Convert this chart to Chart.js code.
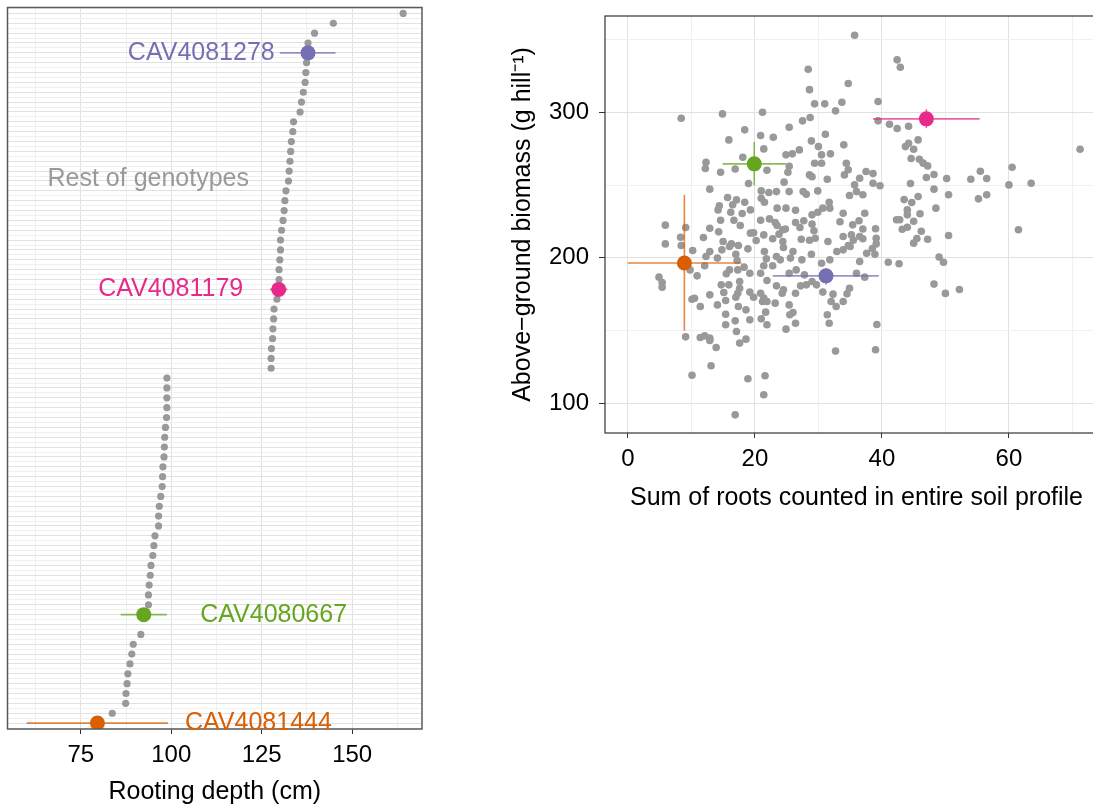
<!DOCTYPE html>
<html>
<head>
<meta charset="utf-8">
<title>Rooting depth and biomass</title>
<script src="https://cdn.jsdelivr.net/npm/chart.js@4.4.1/dist/chart.umd.min.js"></script>
<style>
  html, body { margin: 0; padding: 0; background: #fff; overflow: hidden; }
  body { width: 1093px; height: 809px; position: relative; }
  #depth-chart { position: absolute; left: 0; top: 0; }
  #biomass-chart { position: absolute; left: 500px; top: 0; }
</style>
</head>
<body>
<canvas id="depth-chart" width="430" height="809"></canvas>
<canvas id="biomass-chart" width="620" height="520"></canvas>
<script>
const FONT = "'Liberation Sans', Arial, Helvetica, sans-serif";
Chart.defaults.font.family = FONT;
Chart.defaults.color = '#000';

// highlighted genotypes
const genotypes = ['CAV4081278', 'CAV4081179', 'CAV4080667', 'CAV4081444'];
const genoColours = ['#7570B3', '#E7298A', '#66A61E', '#D95F02'];
const genoRank = [4, 28, 61, 72];
const depthMean = [137.8, 129.7, 92.4, 79.6];
const depthLow = [130.0, 127.3, 86.0, 60.0];
const depthHigh = [145.4, 132.1, 98.8, 99.1];
const rootsMean = [31.2, 47.0, 19.9, 8.9];
const rootsLow = [22.8, 38.6, 14.9, 0.0];
const rootsHigh = [39.5, 55.4, 24.9, 17.9];
const biomassMean = [187.6, 295.7, 264.7, 196.4];
const biomassLow = [181.4, 289.3, 249.8, 149.8];
const biomassHigh = [192.9, 302.3, 279.8, 243.4];

// rooting depth of every genotype, deepest first (rank = row)
const depthByRank = [
  164.1, 144.8, 139.6, 137.8, 137.8, 137.4, 137.2, 137.0, 136.5, 136.0,
  135.6, 133.8, 133.6, 133.2, 133.0, 132.8, 132.6, 132.4, 131.7, 131.4,
  131.2, 130.9, 130.5, 130.2, 130.2, 130.0, 129.8, 129.8, 129.7, 129.2,
  128.4, 128.3, 128.1, 128.0, 127.7, 127.6, 127.6,
  98.8, 98.8, 98.8, 98.8, 98.7, 98.4, 98.2, 98.1, 98.0, 97.7,
  97.6, 97.5, 97.1, 96.7, 96.5, 96.5, 95.5, 95.2, 94.9, 94.4,
  94.2, 93.9, 93.7, 93.7, 92.4, null, 91.6, 89.5, 89.1, 88.6,
  88.0, 87.8, 87.5, 87.4, 83.7, 79.6
];

// [roots counted, above-ground biomass] for the rest of the genotypes
const otherGenotypes = [
  [35.7,353.2],[28.4,329.8],[28.6,315.8],[34.7,320.0],
  [29.4,306.0],[31.0,306.0],[33.7,307.1],[32.7,301.2],[21.2,300.2],[14.9,299.1],[8.4,296.1],[28.7,296.6],[27.5,294.3],
  [25.4,289.9],[18.4,288.1],[31.1,285.1],[20.9,284.2],[22.9,283.0],[15.9,281.2],[28.9,280.5],[30.0,276.6],[34.0,277.8],
  [21.4,275.0],[27.0,274.3],[25.9,271.6],[24.9,270.9],[30.5,270.9],[31.9,271.6],[18.1,269.3],[12.3,265.8],
  [12.2,261.5],[16.9,261.2],[14.6,258.9],[21.9,260.3],[25.4,263.1],[25.2,258.9],[29.4,265.1],[30.5,265.1],[34.4,265.1],
  [34.7,260.6],[34.1,257.1],[28.6,257.1],[29.0,255.8],[31.4,254.1],[37.5,259.4],[36.5,254.8],
  [24.6,252.1],[19.0,251.2],[12.9,247.3],[21.0,246.1],[22.2,245.0],[23.4,245.6],[25.4,245.6],[27.6,245.6],[28.1,243.8],
  [29.9,246.1],[35.7,250.2],[36.0,245.6],[34.9,242.9],[37.0,243.4],
  [15.7,241.5],[17.1,239.9],[18.4,238.3],[16.5,236.5],[14.4,235.8],[14.2,233.0],[16.2,231.4],[18.0,230.5],[19.3,233.0],
  [21.0,241.0],[21.5,238.3],[23.5,234.2],[24.9,234.2],[26.4,232.8],[29.0,229.6],[29.9,231.4],[30.7,234.2],[31.7,238.3],
  [31.8,234.2],[33.9,230.7],[37.3,230.7],
  [5.9,222.5],[9.1,220.9],[12.9,220.4],[14.6,225.9],[16.7,225.9],[17.7,222.3],[20.9,225.9],[22.3,226.8],[23.2,224.3],
  [23.5,222.3],[24.8,219.9],[26.4,224.3],[27.7,225.5],[27.1,220.9],[29.0,223.2],[29.3,218.6],[33.4,224.8],[35.4,222.7],
  [36.4,225.5],[37.0,219.9],[35.2,215.8],[36.5,214.7],
  [5.9,209.6],[8.3,214.2],[8.4,208.5],[11.9,214.0],[14.3,217.9],[15.0,211.2],[16.3,209.6],[17.4,208.5],[19.3,217.0],
  [19.8,217.2],[20.2,211.9],[21.4,215.8],[22.8,213.1],[23.8,216.3],[24.4,219.3],[24.4,211.2],[27.3,212.8],[28.6,212.1],
  [29.5,213.5],[31.5,211.2],[33.9,214.7],[34.7,208.5],[35.5,212.1],[37.0,213.1],
  [10.2,205.0],[12.3,200.9],[12.9,204.3],[14.1,199.8],[14.8,205.5],[16.0,207.8],[17.0,202.5],[17.2,198.2],[18.9,206.2],
  [21.5,204.4],[21.8,199.3],[23.4,200.9],[24.5,207.1],[24.0,198.6],[25.6,199.8],[26.0,204.4],[27.4,198.6],[28.9,202.5],
  [30.5,196.3],[31.8,198.6],[32.9,204.4],[33.9,205.5],[35.0,207.8],[36.5,197.5],[37.6,203.2],
  [4.9,186.7],[5.4,183.0],[5.4,179.8],[9.8,191.7],[10.9,187.6],[12.1,194.5],[15.5,189.0],[16.0,191.7],[17.3,191.7],
  [18.3,193.6],[19.2,189.4],[20.9,189.4],[21.4,194.5],[21.9,184.4],[22.8,194.5],[23.4,180.7],[24.5,178.0],[24.3,175.6],
  [26.4,175.6],[25.4,189.4],[26.5,191.7],[27.8,188.3],[27.2,180.7],[28.1,181.4],[29.0,183.7],[29.7,181.4],[30.7,176.4],
  [32.3,175.0],[32.0,169.9],[32.8,166.5],[33.9,169.9],[34.9,179.1],[34.5,175.2],[36.0,189.4],[37.3,186.7],
  [14.7,181.4],[15.9,181.4],[17.6,183.7],[17.6,179.1],[17.3,175.6],[15.1,176.1],[17.0,172.9],[12.9,174.5],[10.1,171.5],
  [10.5,172.2],[11.4,166.5],[14.1,167.6],[15.4,170.6],[17.4,166.5],[19.2,176.4],[19.8,172.9],[20.9,175.6],[21.2,169.9],
  [21.9,169.9],[21.4,172.3],[23.2,168.8],[25.4,167.6],[26.0,162.4],[25.5,160.8],[26.4,155.0],[24.9,150.9],[18.6,164.2],
  [21.7,162.6],[21.0,158.0],[21.9,153.9],[19.2,157.3],[16.9,156.6],[15.4,153.9],[15.4,161.2],[17.1,149.3],[17.6,141.3],
  [18.6,144.0],[9.1,145.6],[11.4,145.2],[12.1,146.3],[12.9,144.7],[12.9,143.1],[13.9,138.3],[13.1,125.7],[10.1,119.2],
  [18.9,116.7],[21.6,118.8],[21.4,105.7],[16.9,91.9],[31.4,160.8],[31.7,155.0],[32.7,135.8],
  [42.4,336.3],[42.9,331.2],[39.4,307.6],[39.4,294.3],[41.2,292.0],[42.4,289.0],[44.2,290.6],[45.7,281.2],[44.2,278.9],
  [43.7,276.6],[45.0,274.8],[44.6,268.4],[45.9,267.9],[46.5,265.2],[47.2,263.3],[48.2,257.4],[47.0,255.3],[50.2,254.6],
  [44.5,251.2],[48.2,247.3],[50.5,243.4],[45.7,242.2],[43.5,240.1],[44.7,238.1],[48.5,234.2],[44.0,233.0],[44.0,229.6],
  [46.0,230.3],[42.3,226.2],[42.8,226.2],[45.0,225.2],[44.0,221.1],[43.2,219.7],[46.2,218.3],[50.5,215.4],[47.2,212.8],
  [45.5,213.3],[45.0,210.1],[49.0,200.5],[49.7,197.0],[41.0,197.0],[42.7,195.9],[48.2,181.9],[50.0,175.5],[52.2,178.2],
  [54.0,254.1],[55.5,259.6],[56.5,254.6],[55.2,240.6],[56.5,243.4],[60.5,262.4],[60.0,250.2],[63.5,251.4],[61.5,219.3],
  [71.2,274.8],[38.6,258.0],[38.6,251.4],[39.7,249.6],[39.0,220.0],[39.1,213.5],[39.1,209.6],[38.5,206.4],[38.9,202.5],
  [39.0,136.7],[39.2,154.1]
];

// axis breaks
const depthTicks = [75, 100, 125, 150];
const rootTicks = [0, 20, 40, 60];
const biomassTicks = [100, 200, 300];

const GREY = '#999999';
const GRID_MAJOR = '#e1e1e1';
const GRID_MINOR = '#f0f0f0';

// major breaks plus the half steps between them (and one either side)
function withMinor(breaks) {
  const step = breaks[1] - breaks[0];
  const out = [breaks[0] - step / 2];
  breaks.forEach(b => { out.push(b, b + step / 2); });
  return out;
}

function fade(hex, a) {
  const n = parseInt(hex.slice(1), 16);
  return `rgba(${n >> 16}, ${(n >> 8) & 255}, ${n & 255}, ${a})`;
}

// the scales keep their own label padding otherwise, which pushes the plot area in
function noEdgePadding(axis) {
  axis.paddingTop = 0;
  axis.paddingBottom = 0;
  axis.paddingLeft = 0;
  axis.paddingRight = 0;
}

// box round the plotting area, ggplot style
const panelFrame = {
  id: 'panelFrame',
  afterDatasetsDraw(chart, args, opts) {
    const { ctx, chartArea: a } = chart;
    ctx.save();
    ctx.strokeStyle = opts.color;
    ctx.lineWidth = opts.width;
    ctx.strokeRect(a.left, a.top, a.right - a.left, a.bottom - a.top);
    ctx.restore();
  }
};

// names written next to the highlighted rows
const rowLabels = {
  id: 'rowLabels',
  afterDatasetsDraw(chart, args, opts) {
    const { ctx, scales: { x, y } } = chart;
    ctx.save();
    ctx.font = `25px ${FONT}`;
    ctx.textBaseline = 'middle';
    opts.items.forEach(it => {
      ctx.fillStyle = it.colour;
      ctx.textAlign = it.align;
      ctx.fillText(it.text, x.getPixelForValue(it.at), y.getPixelForValue(it.row));
    });
    ctx.restore();
  }
};

function gridColour(isMajor) {
  return ctx => (ctx.tick && isMajor(ctx.tick.value)) ? GRID_MAJOR : GRID_MINOR;
}
function tickMark(isMajor) {
  return ctx => (ctx.tick && isMajor(ctx.tick.value)) ? '#333333' : 'rgba(0,0,0,0)';
}

function errorBars(lo, hi, fixed, horizontal) {
  return genotypes.map((g, i) => ({
    label: g + (horizontal ? ' h' : ' v'),
    data: horizontal
      ? [{ x: lo[i], y: fixed[i] }, { x: hi[i], y: fixed[i] }]
      : [{ x: fixed[i], y: lo[i] }, { x: fixed[i], y: hi[i] }],
    showLine: true,
    borderColor: fade(genoColours[i], 0.75),
    borderWidth: 1.6,
    pointRadius: 0,
    order: 1
  }));
}

// ---- left panel: rooting depth by rank ----
const depthPoints = [];
depthByRank.forEach((v, i) => { if (v !== null) depthPoints.push({ x: v, y: i }); });

const rankLines = [];
for (let r = -0.5; r <= depthByRank.length - 0.5; r += 0.5) rankLines.push(r);

const depthMajor = v => depthTicks.includes(v);

new Chart(document.getElementById('depth-chart'), {
  type: 'scatter',
  data: {
    datasets: [
      {
        label: 'highlighted',
        data: genotypes.map((g, i) => ({ x: depthMean[i], y: genoRank[i] })),
        pointBackgroundColor: genoColours,
        pointBorderWidth: 0,
        pointRadius: 7.5,
        order: 0
      },
      ...errorBars(depthLow, depthHigh, genoRank, true),
      {
        label: 'rest',
        data: depthPoints,
        pointBackgroundColor: GREY,
        pointBorderWidth: 0,
        pointRadius: 3.6,
        order: 2
      }
    ]
  },
  options: {
    responsive: false,
    animation: false,
    events: [],
    layout: { padding: { top: 6, right: 8, bottom: 0, left: 0 } },
    plugins: {
      legend: { display: false },
      tooltip: { enabled: false },
      panelFrame: { color: '#5a5a5a', width: 1.5 },
      rowLabels: {
        items: [
          { text: genotypes[0], colour: genoColours[0], at: 128.6, row: genoRank[0], align: 'right' },
          { text: 'Rest of genotypes', colour: GREY, at: 65.8, row: 16.8, align: 'left' },
          { text: genotypes[1], colour: genoColours[1], at: 119.9, row: genoRank[1], align: 'right' },
          { text: genotypes[2], colour: genoColours[2], at: 108.0, row: genoRank[2], align: 'left' },
          { text: genotypes[3], colour: genoColours[3], at: 103.8, row: genoRank[3], align: 'left' }
        ]
      }
    },
    scales: {
      x: {
        type: 'linear',
        min: 54.75,
        max: 169.3,
        afterBuildTicks: axis => { axis.ticks = withMinor(depthTicks).map(v => ({ value: v })); },
        afterFit: axis => { axis.height = 80; noEdgePadding(axis); },
        border: { display: false },
        grid: { color: gridColour(depthMajor), tickColor: tickMark(depthMajor), tickLength: 5, lineWidth: 1 },
        ticks: {
          autoSkip: false, maxRotation: 0, padding: 7,
          font: { size: 24 }, color: '#000',
          callback: v => depthMajor(v) ? String(v) : ''
        },
        title: { display: true, text: 'Rooting depth (cm)', font: { size: 25 }, color: '#000', padding: { top: 0, bottom: 2 } }
      },
      y: {
        type: 'linear',
        reverse: true,
        min: -0.6,
        max: depthByRank.length - 0.4,
        afterBuildTicks: axis => { axis.ticks = rankLines.map(v => ({ value: v })); },
        afterFit: axis => { axis.width = 7; noEdgePadding(axis); },
        border: { display: false },
        grid: { color: gridColour(Number.isInteger), drawTicks: false, lineWidth: 1 },
        ticks: { display: false }
      }
    }
  },
  plugins: [panelFrame, rowLabels]
});

// ---- right panel: roots counted vs biomass ----
const rootMajor = v => rootTicks.includes(v);
const biomassMajor = v => biomassTicks.includes(v);

new Chart(document.getElementById('biomass-chart'), {
  type: 'scatter',
  data: {
    datasets: [
      {
        label: 'highlighted',
        data: genotypes.map((g, i) => ({ x: rootsMean[i], y: biomassMean[i] })),
        pointBackgroundColor: genoColours,
        pointBorderWidth: 0,
        pointRadius: 7.5,
        order: 0
      },
      ...errorBars(rootsLow, rootsHigh, biomassMean, true),
      ...errorBars(biomassLow, biomassHigh, rootsMean, false),
      {
        label: 'rest',
        data: otherGenotypes.map(p => ({ x: p[0], y: p[1] })),
        pointBackgroundColor: GREY,
        pointBorderWidth: 0,
        pointRadius: 3.8,
        order: 2
      }
    ]
  },
  options: {
    responsive: false,
    animation: false,
    events: [],
    layout: { padding: { top: 16, right: 12, bottom: 0, left: 0 } },
    plugins: {
      legend: { display: false },
      tooltip: { enabled: false },
      panelFrame: { color: '#333333', width: 1.2 }
    },
    scales: {
      x: {
        type: 'linear',
        min: -3.6,
        max: 75.6,
        afterBuildTicks: axis => { axis.ticks = withMinor(rootTicks).slice(1).map(v => ({ value: v })); },
        afterFit: axis => { axis.height = 87; noEdgePadding(axis); },
        border: { display: false },
        grid: { color: gridColour(rootMajor), tickColor: tickMark(rootMajor), tickLength: 5, lineWidth: 1 },
        ticks: {
          autoSkip: false, maxRotation: 0, padding: 7,
          font: { size: 24 }, color: '#000',
          callback: v => rootMajor(v) ? String(v) : ''
        },
        title: { display: true, text: 'Sum of roots counted in entire soil profile', font: { size: 25 }, color: '#000', padding: { top: 0, bottom: 7 } }
      },
      y: {
        type: 'linear',
        min: 79.4,
        max: 366.5,
        afterBuildTicks: axis => { axis.ticks = withMinor(biomassTicks).slice(1).map(v => ({ value: v })); },
        afterFit: axis => { axis.width = 105; noEdgePadding(axis); },
        border: { display: false },
        grid: { color: gridColour(biomassMajor), tickColor: tickMark(biomassMajor), tickLength: 6, lineWidth: 1 },
        ticks: {
          autoSkip: false, padding: 10,
          font: { size: 24 }, color: '#000',
          callback: v => biomassMajor(v) ? String(v) : ''
        },
        title: { display: true, text: 'Above\u2212ground biomass (g hill\u207B\u00B9)', font: { size: 25 }, color: '#000', padding: { top: 8, bottom: 0 } }
      }
    }
  },
  plugins: [panelFrame]
});
</script>
</body>
</html>
